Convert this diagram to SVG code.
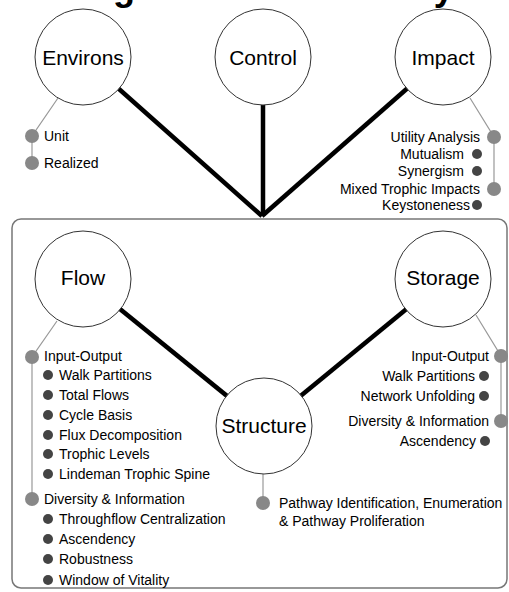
<svg xmlns="http://www.w3.org/2000/svg" width="509" height="592" viewBox="0 0 509 592">
  <style>
    text { font-family: "Liberation Sans", Arial, Helvetica, sans-serif; fill: #000; }
    .title { font-size: 36px; font-weight: bold; }
    .node circle { fill: #fff; stroke: #333; stroke-width: 1; }
    .node text { font-size: 21px; text-anchor: middle; }
    .item { font-size: 14px; }
    .end { text-anchor: end; }
    .link { stroke: #000; stroke-width: 4.5; fill: none; }
    .leader { stroke: #999; stroke-width: 1.2; fill: none; }
    .major { fill: #888; }
    .minor { fill: #444; }
    .frame { fill: none; stroke: #777; stroke-width: 1.5; }
  </style>

  <!-- heading, mostly above the visible area -->
  <text class="title" x="15" y="0">Ecological Network Analysis</text>

  <!-- frame around the network-analysis core -->
  <rect class="frame" x="12" y="219" width="495" height="369" rx="9" ry="9"/>

  <!-- connectors -->
  <g id="connectors">
    <line class="link" x1="83" y1="57" x2="262" y2="216"/>
    <line class="link" x1="263" y1="57" x2="263" y2="216"/>
    <line class="link" x1="443" y1="57" x2="262" y2="216"/>
    <line class="link" x1="83" y1="279" x2="264" y2="426"/>
    <line class="link" x1="443" y1="279" x2="264" y2="426"/>

    <polyline class="leader" points="58,98 32,136 32,163"/>
    <polyline class="leader" points="470,98 494,137 494,189"/>
    <polyline class="leader" points="57,321 32,357 32,499"/>
    <polyline class="leader" points="476,315 501,356 501,421"/>
    <line class="leader" x1="263" y1="474" x2="263" y2="503"/>
  </g>

  <!-- nodes -->
  <g id="environs" class="node">
    <circle cx="83" cy="57" r="48"/>
    <text x="83" y="64.5">Environs</text>
  </g>
  <g id="control" class="node">
    <circle cx="263" cy="57" r="48"/>
    <text x="263" y="64.5">Control</text>
  </g>
  <g id="impact" class="node">
    <circle cx="443" cy="57" r="48"/>
    <text x="443" y="64.5">Impact</text>
  </g>
  <g id="flow" class="node">
    <circle cx="83" cy="279" r="48"/>
    <text x="83" y="285">Flow</text>
  </g>
  <g id="storage" class="node">
    <circle cx="443" cy="279" r="48"/>
    <text x="443" y="285">Storage</text>
  </g>
  <g id="structure" class="node">
    <circle cx="264" cy="426" r="48"/>
    <text x="264" y="433">Structure</text>
  </g>

  <!-- environ analyses -->
  <g id="environs-items">
    <circle class="major" cx="32" cy="136" r="7"/>
    <text class="item" x="44" y="141">Unit</text>
    <circle class="major" cx="32" cy="163" r="7"/>
    <text class="item" x="44" y="168">Realized</text>
  </g>

  <!-- impact analyses -->
  <g id="impact-items">
    <circle class="major" cx="494" cy="137" r="7"/>
    <text class="item end" x="480" y="142">Utility Analysis</text>
    <circle class="minor" cx="477" cy="154" r="5"/>
    <text class="item end" x="464" y="159">Mutualism</text>
    <circle class="minor" cx="477" cy="171" r="5"/>
    <text class="item end" x="464" y="176">Synergism</text>
    <circle class="major" cx="494" cy="189" r="7"/>
    <text class="item end" x="480" y="194">Mixed Trophic Impacts</text>
    <circle class="minor" cx="477" cy="205" r="5"/>
    <text class="item end" x="470" y="210">Keystoneness</text>
  </g>

  <!-- flow analyses -->
  <g id="flow-items">
    <circle class="major" cx="32" cy="357" r="7"/>
    <text class="item" x="44" y="361">Input-Output</text>
    <circle class="minor" cx="48" cy="375" r="5"/>
    <text class="item" x="59" y="380">Walk Partitions</text>
    <circle class="minor" cx="48" cy="395" r="5"/>
    <text class="item" x="59" y="400">Total Flows</text>
    <circle class="minor" cx="48" cy="415" r="5"/>
    <text class="item" x="59" y="420">Cycle Basis</text>
    <circle class="minor" cx="48" cy="435" r="5"/>
    <text class="item" x="59" y="440">Flux Decomposition</text>
    <circle class="minor" cx="48" cy="454" r="5"/>
    <text class="item" x="59" y="459">Trophic Levels</text>
    <circle class="minor" cx="48" cy="474" r="5"/>
    <text class="item" x="59" y="479">Lindeman Trophic Spine</text>
    <circle class="major" cx="32" cy="499" r="7"/>
    <text class="item" x="44" y="504">Diversity &amp; Information</text>
    <circle class="minor" cx="48" cy="519" r="5"/>
    <text class="item" x="59" y="524">Throughflow Centralization</text>
    <circle class="minor" cx="48" cy="539" r="5"/>
    <text class="item" x="59" y="544">Ascendency</text>
    <circle class="minor" cx="48" cy="559" r="5"/>
    <text class="item" x="59" y="564">Robustness</text>
    <circle class="minor" cx="48" cy="580" r="5"/>
    <text class="item" x="59" y="585">Window of Vitality</text>
  </g>

  <!-- storage analyses -->
  <g id="storage-items">
    <circle class="major" cx="501" cy="356" r="7"/>
    <text class="item end" x="489" y="361">Input-Output</text>
    <circle class="minor" cx="484" cy="376" r="5"/>
    <text class="item end" x="475" y="381">Walk Partitions</text>
    <circle class="minor" cx="484" cy="396" r="5"/>
    <text class="item end" x="475" y="401">Network Unfolding</text>
    <circle class="major" cx="501" cy="421" r="7"/>
    <text class="item end" x="489" y="426">Diversity &amp; Information</text>
    <circle class="minor" cx="485" cy="441" r="5"/>
    <text class="item end" x="476" y="446">Ascendency</text>
  </g>

  <!-- structure analyses -->
  <g id="structure-items">
    <circle class="major" cx="263" cy="503" r="7"/>
    <text class="item" x="279" y="508">Pathway Identification, Enumeration</text>
    <text class="item" x="279" y="526">&amp; Pathway Proliferation</text>
  </g>
</svg>
